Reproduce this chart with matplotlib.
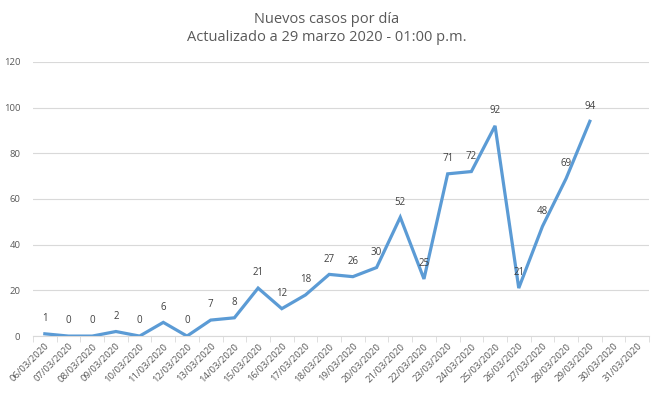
#!/usr/bin/env python3

import matplotlib
matplotlib.use("Agg")
import matplotlib.pyplot as plt
from matplotlib.ticker import FixedLocator
from matplotlib.transforms import ScaledTranslation


DATES: list[str] = [
    "06/03/2020", "07/03/2020", "08/03/2020", "09/03/2020", "10/03/2020",
    "11/03/2020", "12/03/2020", "13/03/2020", "14/03/2020", "15/03/2020",
    "16/03/2020", "17/03/2020", "18/03/2020", "19/03/2020", "20/03/2020",
    "21/03/2020", "22/03/2020", "23/03/2020", "24/03/2020", "25/03/2020",
    "26/03/2020", "27/03/2020", "28/03/2020", "29/03/2020", "30/03/2020",
    "31/03/2020",
]

NEW_CASES: list[int] = [
    1, 0, 0, 2, 0, 6, 0, 7, 8, 21, 12, 18, 27, 26, 30,
    52, 25, 71, 72, 92, 21, 48, 69, 94,
]

Y_TICKS: list[int] = [0, 20, 40, 60, 80, 100, 120]

TITLE:       str = "Nuevos casos por día\nActualizado a 29 marzo 2020 - 01:00 p.m."
OUTPUT_FILE: str = "out.png"

LINE_COLOR: str = "#5B9BD5"
TEXT_GREY:  str = "#595959"
GRID_GREY:  str = "#D9D9D9"


def main() -> None:
    plt.rcParams["font.family"] = ["Open Sans", "DejaVu Sans"]

    fig = plt.figure(figsize=(6.53, 3.94), dpi=100)
    ax = fig.add_axes([0.0505, 0.147, 0.9435, 0.696])

    x = list(range(len(NEW_CASES)))
    ax.plot(x, NEW_CASES, color=LINE_COLOR, linewidth=2.3,
            solid_joinstyle="miter", zorder=3)

    for xi, v in zip(x, NEW_CASES):
        ax.annotate(str(v), (xi, v), xytext=(0, 7), textcoords="offset points",
                    ha="center", va="bottom", fontsize=7, color="#404040")

    ax.set_xlim(-0.5, len(DATES) - 0.5)
    ax.set_ylim(Y_TICKS[0], Y_TICKS[-1])

    ax.set_xticks(range(len(DATES)))
    ax.set_xticklabels(DATES, rotation=45, ha="right", rotation_mode="anchor",
                       fontsize=6.8, color=TEXT_GREY)
    shift = ScaledTranslation(3 / 72, 0, fig.dpi_scale_trans)
    for lbl in ax.get_xticklabels():
        lbl.set_transform(lbl.get_transform() + shift)
    ax.xaxis.set_minor_locator(FixedLocator([i - 0.5 for i in range(len(DATES) + 1)]))
    ax.tick_params(axis="x", which="major", length=0, pad=4)
    ax.tick_params(axis="x", which="minor", length=4, color=GRID_GREY)

    ax.set_yticks(Y_TICKS)
    ax.tick_params(axis="y", length=0, labelsize=6.8, labelcolor=TEXT_GREY, pad=9)

    ax.yaxis.grid(True, color=GRID_GREY, linewidth=0.8)
    ax.set_axisbelow(True)
    for side in ("top", "right", "left"):
        ax.spines[side].set_visible(False)
    ax.spines["bottom"].set_color(GRID_GREY)

    fig.suptitle(TITLE, y=0.97, fontsize=10.5, color=TEXT_GREY, linespacing=1.3)

    fig.savefig(OUTPUT_FILE, dpi=100)
    plt.close(fig)


if __name__ == "__main__":
    main()
